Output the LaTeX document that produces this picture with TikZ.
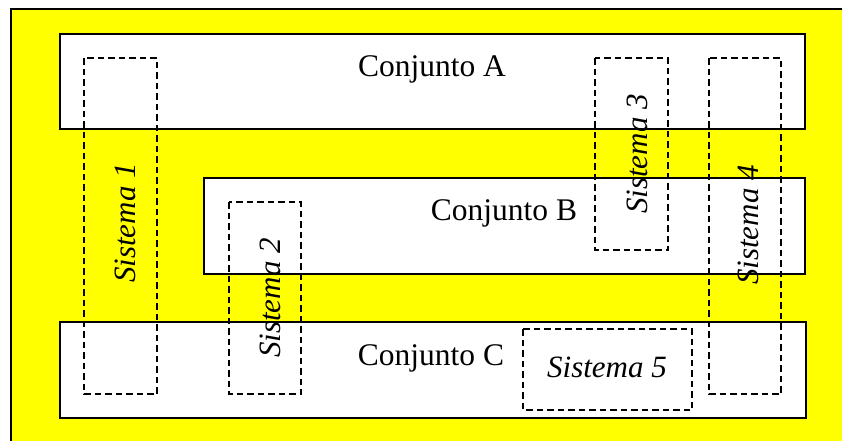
\documentclass[tikz,border=0pt]{standalone}
\usepackage{fontspec}
\setmainfont{Liberation Serif}
\definecolor{bgyellow}{RGB}{255,255,0}
\begin{document}
\begin{tikzpicture}[x=1pt,y=-1pt,
  conj/.style={draw=black,line width=1.6pt,fill=white},
  sist/.style={draw=black,line width=1.3pt,dash pattern=on 6.5pt off 4pt},
  lbl/.style={inner sep=0pt,anchor=base,font=\fontsize{31.5}{36}\selectfont},
  slbl/.style={inner sep=0pt,anchor=base,rotate=90,font=\fontsize{31}{36}\selectfont\itshape}]
\useasboundingbox (0,0) rectangle (842,440);
\begin{scope}
\clip (0,0) rectangle (842,440);
\draw[fill=bgyellow,draw=black,line width=1.8pt] (11,9) rectangle (860,460);
\end{scope}
% Conjuntos
\draw[conj] (60,34) rectangle (805,129);
\draw[conj] (204,178) rectangle (805,274);
\draw[conj] (60,322) rectangle (806,418);
% Sistemas
\draw[sist] (84,58) rectangle (157,394);
\draw[sist] (229,202) rectangle (301,394);
\draw[sist] (595,58) rectangle (668,250);
\draw[sist] (709,58) rectangle (781,394);
\draw[sist] (523,329) rectangle (692,410);
% labels
\node[lbl] (cA) at (432,76) {Conjunto A};
\node[lbl] (cB) at (504,220) {Conjunto B};
\node[lbl] (cC) at (431,365) {Conjunto C};
\node[lbl,font=\fontsize{31}{36}\selectfont\itshape] (s5) at (607,377) {Sistema 5};
\node[slbl] (s1) at (135,223) {Sistema 1};
\node[slbl] (s2) at (280,298) {Sistema 2};
\node[slbl] (s3) at (647,154) {Sistema 3};
\node[slbl] (s4) at (758,225) {Sistema 4};
\end{tikzpicture}
\end{document}
